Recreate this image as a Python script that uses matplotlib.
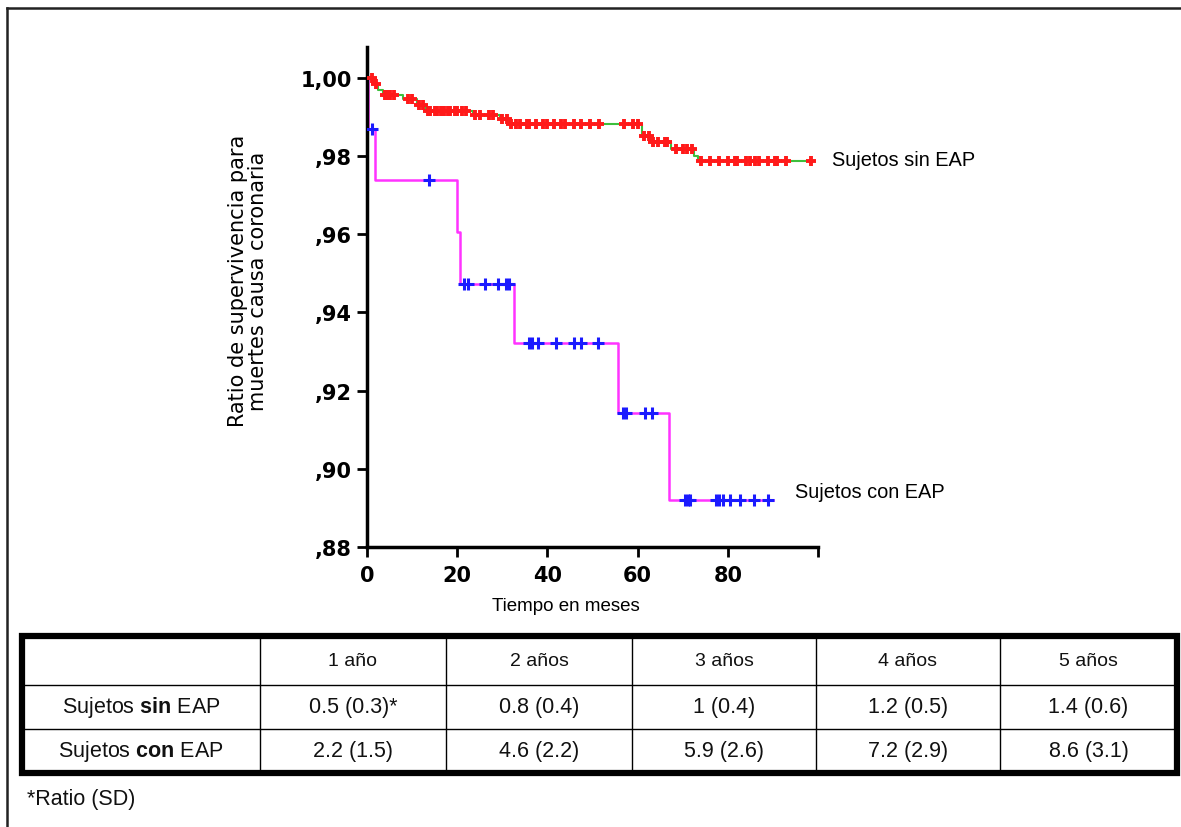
import matplotlib
matplotlib.use("Agg")
import matplotlib.pyplot as plt
import numpy as np

plt.rcParams['font.family'] = ['Liberation Sans', 'DejaVu Sans']
plt.rcParams['mathtext.fontset'] = 'custom'
plt.rcParams['mathtext.rm'] = 'Liberation Sans'
plt.rcParams['mathtext.bf'] = 'Liberation Sans:bold'

# curva sin EAP (tiempo de evento, supervivencia)
sin_t = [0, 1.5, 2.5, 3.5, 8.0, 11.0, 13.0, 23.5, 29.5, 31.5, 61.0, 63.0, 67.5, 72.5, 73.5, 99.0]
sin_s = [1.000, 0.9985, 0.997, 0.9955, 0.9945, 0.993, 0.9915, 0.9905, 0.9895, 0.9882,
         0.9852, 0.9836, 0.9818, 0.9800, 0.9788, 0.9788]
sin_cens = [1.0, 2.0, 4.0, 4.5, 5.0, 6.0, 9.0, 10.0, 11.5, 12.5, 13.5, 14.0, 15.0, 15.5, 16.5,
            17.0, 18.0, 18.5, 19.5, 20.0, 21.0, 22.0, 24.0, 25.0, 27.0, 28.0, 30.0, 31.0,
            32.0, 33.0, 34.0, 35.5, 36.0, 37.5, 39.0, 40.0, 41.5, 43.0, 44.0, 46.0, 47.5,
            49.5, 51.5, 57.0, 59.0, 60.0, 61.5, 62.5, 63.5, 64.5, 66.0, 66.5, 68.5, 70.0,
            71.0, 72.0, 74.0, 76.0, 78.0, 80.0, 81.5, 82.0, 84.0, 85.0, 86.0, 87.0, 89.0,
            90.5, 91.0, 93.0, 98.5]

# curva con EAP
con_t = [0, 0.2, 1.8, 20.0, 20.6, 32.6, 55.6, 67.0, 90.1]
con_s = [1.0, 0.987, 0.974, 0.9605, 0.9472, 0.9322, 0.9144, 0.892, 0.892]
con_cens = [1.0, 13.8, 21.6, 22.3, 26.1, 29.1, 30.8, 31.5, 36.0, 36.5, 38.0, 42.0, 45.9,
            47.5, 51.3, 56.8, 57.4, 61.7, 63.2, 70.5, 71.1, 71.6, 77.3, 78.0, 79.0, 80.4,
            82.6, 85.7, 88.9]

yticks = [0.88, 0.90, 0.92, 0.94, 0.96, 0.98, 1.00]
ytick_labels = [',88', ',90', ',92', ',94', ',96', ',98', '1,00']
xticks = [0, 20, 40, 60, 80, 100]
xtick_labels = ['0', '20', '40', '60', '80', '']

col_labels = ['', '1 año', '2 años', '3 años', '4 años', '5 años']
row_labels = [r'Sujetos $\mathbf{sin}$ EAP', r'Sujetos $\mathbf{con}$ EAP']
sin_vals = ['0.5 (0.3)*', '0.8 (0.4)', '1 (0.4)', '1.2 (0.5)', '1.4 (0.6)']
con_vals = ['2.2 (1.5)', '4.6 (2.2)', '5.9 (2.6)', '7.2 (2.9)', '8.6 (3.1)']


def censor_y(times, t_ev, s_ev):
    idx = np.searchsorted(t_ev, times, side='right') - 1
    return np.array(s_ev)[idx]


W, H = 1181, 828
fig = plt.figure(figsize=(W / 100, H / 100), dpi=100)

# capa de fondo en pixeles: marco y tabla
bg = fig.add_axes([0, 0, 1, 1])
bg.set_xlim(0, W)
bg.set_ylim(H, 0)
bg.axis('off')
bg.plot([7, W], [9, 9], color='#222222', lw=1.8)
bg.plot([7, 7], [9, H], color='#222222', lw=1.8)

col_x = [22, 260, 446, 632, 816, 1000, 1177]
row_y = [637, 686, 730, 774]
for x in col_x[1:-1]:
    bg.plot([x, x], [row_y[0], row_y[-1]], color='black', lw=1.0)
for y in row_y[1:-1]:
    bg.plot([col_x[0], col_x[-1]], [y, y], color='black', lw=1.0)
bg.add_patch(plt.Rectangle((col_x[0], row_y[0]), col_x[-1] - col_x[0], row_y[-1] - row_y[0],
                           fill=False, lw=4.5, edgecolor='black'))

rows = [col_labels, [row_labels[0]] + sin_vals, [row_labels[1]] + con_vals]
for r, row in enumerate(rows):
    yc = (row_y[r] + row_y[r + 1]) / 2
    for c, txt in enumerate(row):
        xc = (col_x[c] + col_x[c + 1]) / 2
        fs = 14 if r == 0 else 15.5
        bg.text(xc, yc, txt, ha='center', va='center', fontsize=fs, color='#111111')
bg.text(27, 800, '*Ratio (SD)', ha='left', va='center', fontsize=15.5, color='#111111')

# grafico de supervivencia
ax = fig.add_axes([367 / W, 1 - 548 / H, 451 / W, 500 / H])
ax.set_xlim(0, 100)
ax.set_ylim(0.88, 1.0079)

ax.step(sin_t, sin_s, where='post', color='#3cbf3c', lw=1.5, zorder=2)
ax.plot(sin_cens, censor_y(sin_cens, sin_t, sin_s), ls='none', marker='+',
        ms=7.5, mew=2.8, color='#ff1a1a', zorder=3)
ax.step(con_t, con_s, where='post', color='#ff33ff', lw=1.8, zorder=2)
ax.plot(con_cens, censor_y(con_cens, con_t, con_s), ls='none', marker='+',
        ms=8, mew=2.2, color='#1a1aff', zorder=3)

for s in ['top', 'right']:
    ax.spines[s].set_visible(False)
for s in ['left', 'bottom']:
    ax.spines[s].set_linewidth(2.5)
ax.set_yticks(yticks)
ax.set_yticklabels(ytick_labels, fontsize=15, fontweight='bold', family='DejaVu Sans')
ax.set_xticks(xticks)
ax.set_xticklabels(xtick_labels, fontsize=15, fontweight='bold', family='DejaVu Sans')
ax.tick_params(length=7, width=2, pad=4)
ax.tick_params(axis='x', pad=6)
ax.patch.set_alpha(0)

ax.text(103.2, 0.979, 'Sujetos sin EAP', ha='left', va='center', fontsize=14.4, clip_on=False)
ax.text(94.9, 0.8943, 'Sujetos con EAP', ha='left', va='center', fontsize=14.4, clip_on=False)

bg.text(566, 607, 'Tiempo en meses', ha='center', va='center', fontsize=13.5)
bg.text(248, 281, 'Ratio de supervivencia para\nmuertes causa coronaria', ha='center',
        va='center', rotation=90, fontsize=15, family='DejaVu Sans', linespacing=0.95)

fig.savefig('out.png', dpi=100)
